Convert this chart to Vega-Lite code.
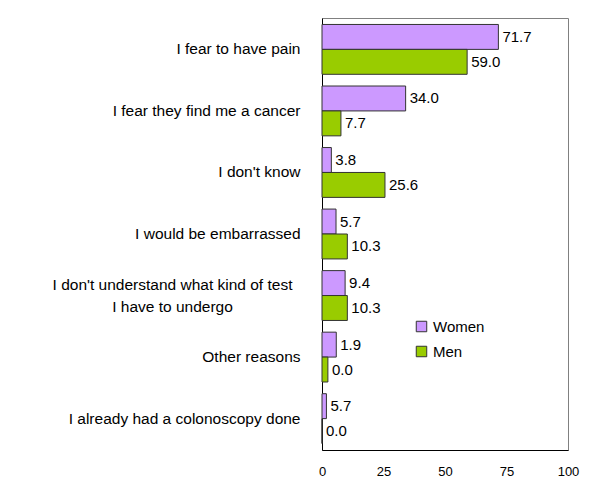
{
  "$schema": "https://vega.github.io/schema/vega-lite/v6.json",
  "width": 246,
  "height": 432,
  "autosize": "none",
  "padding": {"left": 322, "top": 18, "right": 32, "bottom": 40},
  "background": "white",
  "config": {
    "view": {"stroke": "#808080", "strokeWidth": 1},
    "font": "Liberation Sans"
  },
  "data": {
    "values": [
      {"reason": "I fear to have pain", "sex": "Women", "bar": 71.7, "label": "71.7"},
      {"reason": "I fear to have pain", "sex": "Men", "bar": 59.0, "label": "59.0"},
      {"reason": "I fear they find me a cancer", "sex": "Women", "bar": 34.0, "label": "34.0"},
      {"reason": "I fear they find me a cancer", "sex": "Men", "bar": 7.7, "label": "7.7"},
      {"reason": "I don't know", "sex": "Women", "bar": 3.8, "label": "3.8"},
      {"reason": "I don't know", "sex": "Men", "bar": 25.6, "label": "25.6"},
      {"reason": "I would be embarrassed", "sex": "Women", "bar": 5.7, "label": "5.7"},
      {"reason": "I would be embarrassed", "sex": "Men", "bar": 10.3, "label": "10.3"},
      {"reason": "I don't understand what kind of test|I have to undergo", "sex": "Women", "bar": 9.4, "label": "9.4"},
      {"reason": "I don't understand what kind of test|I have to undergo", "sex": "Men", "bar": 10.3, "label": "10.3"},
      {"reason": "Other reasons", "sex": "Women", "bar": 5.8, "label": "1.9"},
      {"reason": "Other reasons", "sex": "Men", "bar": 2.4, "label": "0.0"},
      {"reason": "I already had a colonoscopy done", "sex": "Women", "bar": 1.8, "label": "5.7"},
      {"reason": "I already had a colonoscopy done", "sex": "Men", "bar": 0.0, "label": "0.0"}
    ]
  },
  "encoding": {
    "y": {
      "field": "reason",
      "type": "nominal",
      "sort": null,
      "scale": {"paddingInner": 0.19, "paddingOuter": 0.105},
      "axis": {
        "title": null,
        "ticks": false,
        "domainColor": "black",
        "labelFontSize": 15.5,
        "labelColor": "black",
        "labelPadding": {"condition": {"test": "indexof(datum.value, '|') >= 0", "value": 150}, "value": 22},
        "labelAlign": {"condition": {"test": "indexof(datum.value, '|') >= 0", "value": "center"}, "value": "right"},
        "labelOffset": {"condition": {"test": "indexof(datum.value, '|') >= 0", "value": -11}, "value": 0},
        "labelLimit": 400,
        "labelExpr": "split(datum.value, '|')",
        "labelLineHeight": 22
      }
    },
    "yOffset": {
      "field": "sex",
      "type": "nominal",
      "sort": ["Women", "Men"]
    },
    "x": {
      "field": "bar",
      "type": "quantitative",
      "scale": {"domain": [0, 100], "nice": false},
      "axis": {
        "title": null,
        "values": [0, 25, 50, 75, 100],
        "grid": false,
        "ticks": false,
        "domainColor": "black",
        "labelFontSize": 13,
        "labelColor": "black",
        "labelPadding": 15,
        "labelFlush": false
      }
    }
  },
  "layer": [
    {
      "mark": {"type": "bar", "stroke": "#333333", "strokeWidth": 1},
      "encoding": {
        "color": {
          "field": "sex",
          "type": "nominal",
          "scale": {"domain": ["Women", "Men"], "range": ["#CC99FF", "#99CC00"]},
          "legend": {
            "title": null,
            "orient": "none",
            "legendX": 92,
            "legendY": 301,
            "symbolType": "square",
            "symbolSize": 110,
            "symbolStrokeColor": "#333333",
            "symbolStrokeWidth": 1,
            "labelFontSize": 15,
            "labelColor": "black",
            "rowPadding": 9,
            "labelOffset": 4
          }
        }
      }
    },
    {
      "mark": {"type": "text", "align": "left", "baseline": "middle", "dx": 4, "fontSize": 15, "color": "black"},
      "encoding": {
        "text": {"field": "label", "type": "nominal"}
      }
    }
  ]
}
